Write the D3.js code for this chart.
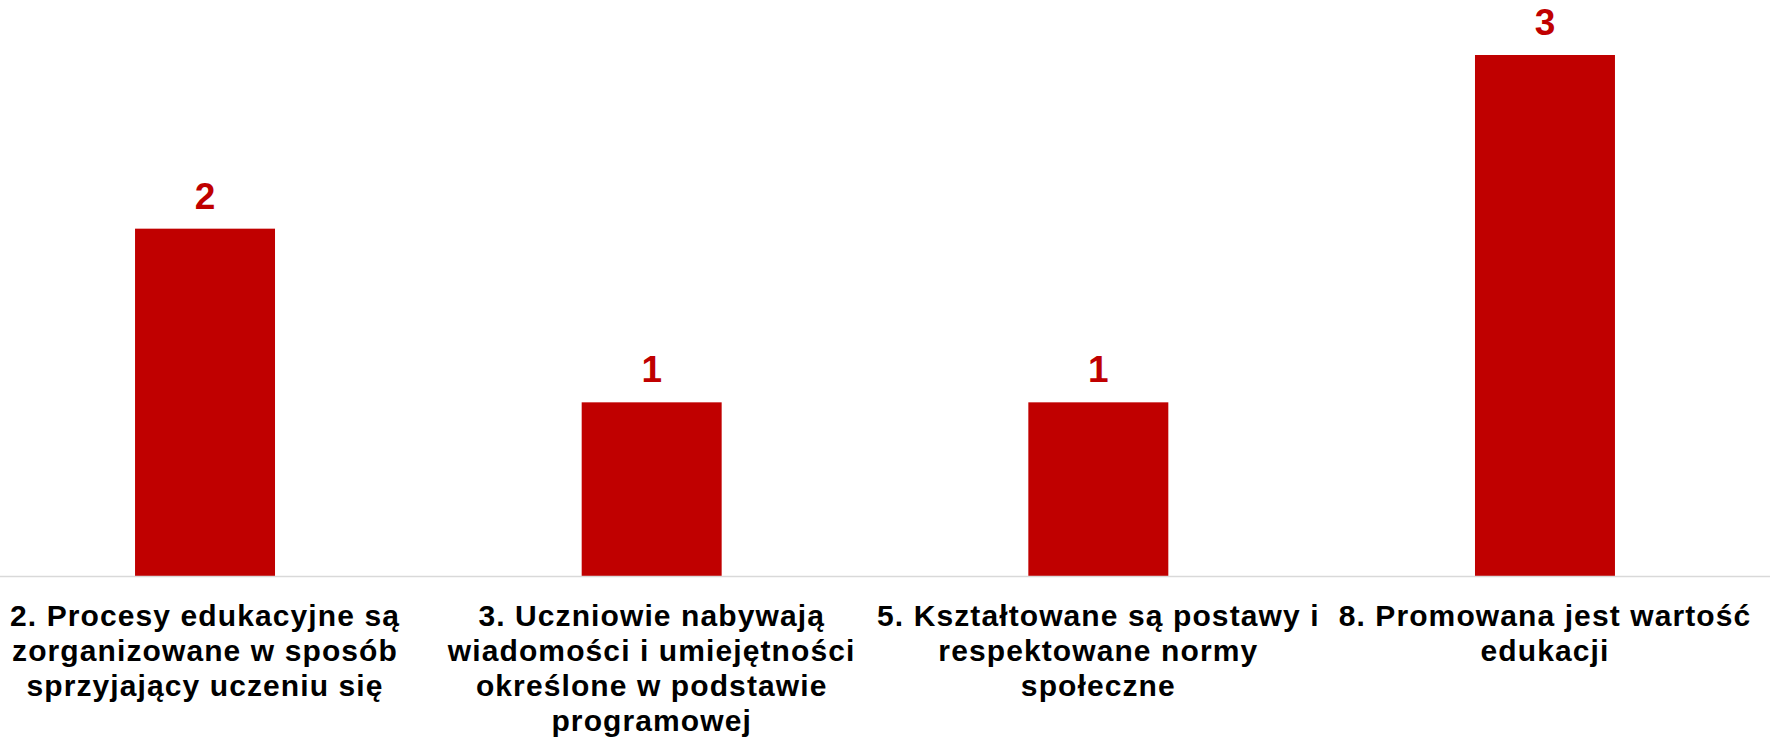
<!DOCTYPE html>
<html>
<head>
<meta charset="utf-8">
<script src="https://cdn.jsdelivr.net/npm/d3@7"></script>
<style>
  html, body { margin: 0; padding: 0; background: #fff; }
  svg { display: block; }
</style>
</head>
<body>
<div id="chart"></div>
<script>
// dane
const categories = [
    "2. Procesy edukacyjne są\nzorganizowane w sposób\nsprzyjający uczeniu się",
    "3. Uczniowie nabywają\nwiadomości i umiejętności\nokreślone w podstawie\nprogramowej",
    "5. Kształtowane są postawy i\nrespektowane normy\nspołeczne",
    "8. Promowana jest wartość\nedukacji"
];
const values = [2, 1, 1, 3];

// wymiary
const width = 1770;
const height = 741;
const baseY = 576;

const svg = d3.select("#chart")
    .append("svg")
    .attr("width", width)
    .attr("height", height);

const x = d3.scaleBand()
    .domain(categories)
    .range([-18.3, 1768.3])
    .paddingInner(0.6866)
    .paddingOuter(0.3433);

const y = d3.scaleLinear()
    .domain([0, 3])
    .range([baseY, 55]);

const font = "'Liberation Sans', Arial, sans-serif";

// słupki
svg.selectAll(".bar")
    .data(values)
    .enter()
    .append("rect")
    .attr("class", "bar")
    .attr("x", (d, i) => x(categories[i]))
    .attr("y", d => y(d))
    .attr("width", x.bandwidth())
    .attr("height", d => y(0) - y(d))
    .attr("fill", "#c00000");

// oś pozioma
svg.append("line")
    .attr("x1", 0)
    .attr("x2", width)
    .attr("y1", baseY + 0.5)
    .attr("y2", baseY + 0.5)
    .attr("stroke", "#d9d9d9")
    .attr("stroke-width", 1.5);

// etykiety wartości
svg.selectAll(".value")
    .data(values)
    .enter()
    .append("text")
    .attr("class", "value")
    .attr("x", (d, i) => x(categories[i]) + x.bandwidth() / 2)
    .attr("y", d => y(d) - 20)
    .attr("text-anchor", "middle")
    .style("font-family", font)
    .style("font-size", "37px")
    .style("font-weight", "bold")
    .style("fill", "#c00000")
    .text(d => d);

// etykiety kategorii
const catLabel = svg.selectAll(".cat")
    .data(categories)
    .enter()
    .append("text")
    .attr("class", "cat")
    .attr("text-anchor", "middle")
    .style("font-family", font)
    .style("font-size", "30px")
    .style("letter-spacing", "1.1px")
    .style("font-weight", "bold")
    .style("fill", "#000");

catLabel.each(function (d) {
    const cx = x(d) + x.bandwidth() / 2;
    d.split("\n").forEach((line, i) => {
        d3.select(this).append("tspan")
            .attr("x", cx)
            .attr("y", baseY + 49.5 + i * 35)
            .text(line);
    });
});
</script>
</body>
</html>
